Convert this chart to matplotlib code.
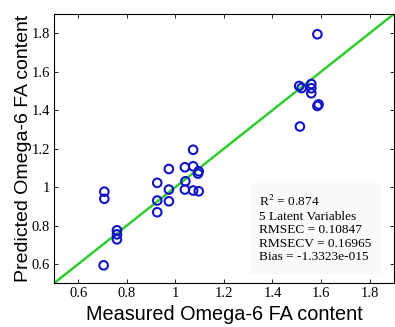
import matplotlib
matplotlib.use('Agg')
import matplotlib.pyplot as plt

plt.rcParams['mathtext.fontset'] = 'stix'

# measured vs predicted values
measured = [1.073, 0.973, 1.039, 1.073, 1.096, 1.093, 0.925, 1.041, 0.973, 1.039,
            1.073, 1.096, 0.925, 0.973, 0.925, 0.707, 0.707, 0.759, 0.759, 0.759,
            0.704, 1.585, 1.510, 1.520, 1.560, 1.560, 1.560, 1.585, 1.590, 1.513]
predicted = [1.194, 1.094, 1.103, 1.108, 1.082, 1.070, 1.022, 1.030, 0.987, 0.987,
             0.982, 0.978, 0.930, 0.926, 0.869, 0.976, 0.939, 0.775, 0.754, 0.728,
             0.593, 1.795, 1.526, 1.515, 1.536, 1.514, 1.488, 1.422, 1.430, 1.315]
fit_line = [0.5, 1.9]
ticks = [0.6, 0.8, 1.0, 1.2, 1.4, 1.6, 1.8]
tick_labels = ['0.6', '0.8', '1', '1.2', '1.4', '1.6', '1.8']
stats_lines = ['R$^2$ = 0.874', '5 Latent Variables', 'RMSEC = 0.10847',
               'RMSECV = 0.16965', 'Bias = -1.3323e-015']

fig = plt.figure(figsize=(3.95, 3.27), dpi=100)
ax = fig.add_axes([0.137, 0.134, 0.86, 0.823])

ax.plot(fit_line, fit_line, color='#2ecc2e', lw=1.8, zorder=1)
ax.scatter(measured, predicted, s=38, facecolors='none', edgecolors='#1414c8',
           linewidths=1.5, zorder=2)

ax.set_xlim(0.5, 1.9)
ax.set_ylim(0.5, 1.9)
ax.set_xticks(ticks)
ax.set_yticks(ticks)
ax.set_xticklabels(tick_labels, family='Liberation Serif', fontsize=10.5)
ax.set_yticklabels(tick_labels, family='Liberation Serif', fontsize=10.5)
ax.tick_params(direction='in', top=True, right=True, length=3, width=0.6, pad=3)
for sp in ax.spines.values():
    sp.set_linewidth(0.8)

ax.set_xlabel('Measured Omega-6 FA content', family='Liberation Sans', fontsize=14.3, labelpad=3)
ax.set_ylabel('Predicted Omega-6 FA content', family='Liberation Sans', fontsize=14, labelpad=0)

ax.text(1.346, 0.965, '\n'.join(stats_lines), family='Liberation Serif', fontsize=9.6,
        va='top', ha='left', linespacing=1.18,
        bbox=dict(boxstyle='square,pad=0.8', facecolor='#fafafa', edgecolor='none'))

fig.savefig('out.png', dpi=100)
